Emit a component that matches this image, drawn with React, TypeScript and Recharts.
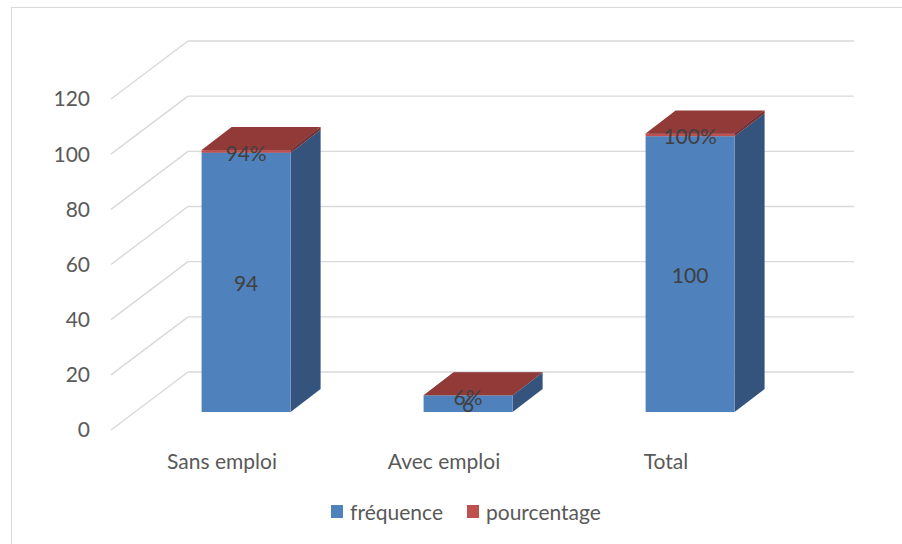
import { BarChart, Bar, XAxis, YAxis, CartesianGrid, LabelList } from 'recharts';

const categories = ['Sans emploi', 'Avec emploi', 'Total'];
const frequence = [94, 6, 100];
const pourcentage = [0.94, 0.06, 1];
const yTicks = [0, 20, 40, 60, 80, 100, 120];

const data = categories.map((name, i) => ({
  name,
  frequence: frequence[i],
  pourcentage: pourcentage[i],
}));

// fake 3D: back wall offset, bar front face offset, bar depth
const WALL_DX = 77;
const WALL_DY = -58;
const SHIFT_X = 24;
const SHIFT_Y = -18;
const BAR_DX = 30;
const BAR_DY = -23;

const TEXT = '#595959';
const GRID = '#D9D9D9';
const FS = 21;

function gridLine(props: any) {
  const { x1, x2, y1, index } = props;
  return (
    <g key={`grid-${index}`}>
      <line x1={x1} y1={y1} x2={x1 + WALL_DX} y2={y1 + WALL_DY} stroke={GRID} strokeWidth={1.4} />
      <line
        x1={x1 + WALL_DX}
        y1={y1 + WALL_DY}
        x2={x2 + WALL_DX}
        y2={y1 + WALL_DY}
        stroke={GRID}
        strokeWidth={1.4}
      />
    </g>
  );
}

function box(front: string, side: string, top: string) {
  return (props: any) => {
    const { x, y, width, height } = props;
    const fx = x + SHIFT_X;
    const fy = y + SHIFT_Y;
    const r = fx + width;
    const b = fy + height;
    return (
      <g>
        <polygon
          points={`${r},${fy} ${r + BAR_DX},${fy + BAR_DY} ${r + BAR_DX},${b + BAR_DY} ${r},${b}`}
          fill={side}
        />
        <rect x={fx} y={fy} width={width} height={height} fill={front} />
        <polygon
          points={`${fx},${fy} ${fx + BAR_DX},${fy + BAR_DY} ${r + BAR_DX},${fy + BAR_DY} ${r},${fy}`}
          fill={top}
        />
      </g>
    );
  };
}

const freqLabel = (props: any) => {
  const { x, y, width, height, value } = props;
  return (
    <text
      x={x + width / 2 + SHIFT_X}
      y={y + height / 2 + SHIFT_Y}
      textAnchor="middle"
      dominantBaseline="central"
      fill="#404040"
      fontSize={FS}
      fontFamily="Lato"
    >
      {value}
    </text>
  );
};

const pctLabel = (props: any) => {
  const { x, y, width, height, value } = props;
  return (
    <text
      x={x + width / 2 + SHIFT_X}
      y={y + height / 2 + SHIFT_Y + 1}
      textAnchor="middle"
      dominantBaseline="central"
      fill="#404040"
      fontSize={FS}
      fontFamily="Lato"
    >
      {`${Math.round(value * 100)}%`}
    </text>
  );
};

const categoryTick = (props: any) => (
  <text
    x={props.x}
    y={props.y + 28}
    textAnchor="middle"
    dominantBaseline="central"
    fill={TEXT}
    fontSize={FS}
    fontFamily="Lato"
  >
    {props.payload.value}
  </text>
);

export default function App() {
  return (
    <div style={{ position: 'absolute', left: 0, top: 0, width: 902, height: 544, fontFamily: 'Lato' }}>
      <div
        style={{
          position: 'absolute',
          left: 11,
          top: 7,
          width: 891,
          height: 537,
          borderTop: `1px solid ${GRID}`,
          borderLeft: `1px solid ${GRID}`,
          boxSizing: 'border-box',
        }}
      />
      <div style={{ position: 'absolute', left: 0, top: 0 }}>
        <BarChart
          width={902}
          height={544}
          data={data}
          margin={{ top: 99, right: 125, bottom: 54, left: 51 }}
          barCategoryGap="30%"
        >
          <CartesianGrid vertical={false} horizontal={gridLine} />
          <XAxis
            dataKey="name"
            axisLine={false}
            tickLine={false}
            tickSize={0}
            height={60}
            tick={categoryTick}
          />
          <YAxis
            domain={[0, 120]}
            ticks={yTicks}
            interval={0}
            axisLine={false}
            tickLine={false}
            tickSize={0}
            tickMargin={21}
            width={60}
            tick={{ fill: TEXT, fontSize: FS, fontFamily: 'Lato' }}
          />
          <Bar
            dataKey="frequence"
            stackId="a"
            isAnimationActive={false}
            shape={box('#4F81BD', '#34547E', '#6A93CC')}
          >
            <LabelList dataKey="frequence" content={freqLabel} />
          </Bar>
          <Bar
            dataKey="pourcentage"
            stackId="a"
            isAnimationActive={false}
            shape={box('#C0504D', '#7A2E2C', '#913A38')}
          >
            <LabelList dataKey="pourcentage" content={pctLabel} />
          </Bar>
        </BarChart>
      </div>
      <div
        style={{
          position: 'absolute',
          left: 30,
          top: 499,
          width: 872,
          display: 'flex',
          justifyContent: 'center',
          alignItems: 'center',
          color: TEXT,
          fontSize: FS,
          fontFamily: 'Lato',
        }}
      >
        <span style={{ display: 'inline-block', width: 12, height: 13, background: '#4F81BD', marginRight: 7 }} />
        <span style={{ marginRight: 24 }}>fréquence</span>
        <span style={{ display: 'inline-block', width: 12, height: 13, background: '#C0504D', marginRight: 7 }} />
        <span>pourcentage</span>
      </div>
    </div>
  );
}
